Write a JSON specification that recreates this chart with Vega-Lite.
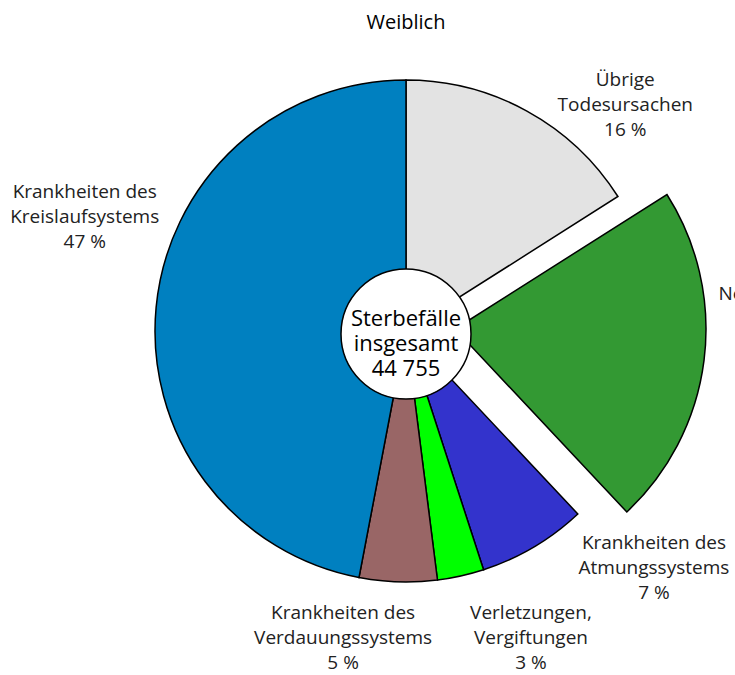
{
  "$schema": "https://vega.github.io/schema/vega-lite/v6.json",
  "width": 660,
  "height": 572,
  "autosize": {"type": "none"},
  "padding": {"left": 76, "top": 45, "right": 0, "bottom": 58},
  "background": "white",
  "title": {"text": "Weiblich", "font": "Open Sans", "fontSize": 20, "fontWeight": "normal", "color": "#000000", "anchor": "middle", "frame": "group", "offset": 12},
  "config": {"view": {"stroke": null}},
  "datasets": {
    "causes": [
      {"cause": "Übrige Todesursachen", "ord": 1, "pct": 16, "label": "Übrige\nTodesursachen\n16 %"},
      {"cause": "Neubildungen", "ord": 2, "pct": 22, "label": "Neubildungen\n22 %"},
      {"cause": "Krankheiten des Atmungssystems", "ord": 3, "pct": 7, "label": "Krankheiten des\nAtmungssystems\n7 %"},
      {"cause": "Verletzungen, Vergiftungen", "ord": 4, "pct": 3, "label": "Verletzungen,\nVergiftungen\n3 %"},
      {"cause": "Krankheiten des Verdauungssystems", "ord": 5, "pct": 5, "label": "Krankheiten des\nVerdauungssystems\n5 %"},
      {"cause": "Krankheiten des Kreislaufsystems", "ord": 6, "pct": 47, "label": "Krankheiten des\nKreislaufsystems\n47 %"}
    ],
    "total": [{"t": "Sterbefälle\ninsgesamt\n44 755"}]
  },
  "data": {"name": "causes"},
  "transform": [
    {"stack": "pct", "groupby": [], "sort": [{"field": "ord", "order": "ascending"}], "as": ["t0", "t1"]}
  ],
  "layer": [
    {
      "transform": [{"filter": "datum.cause !== 'Neubildungen'"}],
      "mark": {"type": "arc", "radius": 251, "stroke": "#000000", "strokeWidth": 1.5},
      "encoding": {
        "theta": {"field": "t0", "type": "quantitative", "scale": {"domain": [0, 100]}},
        "theta2": {"field": "t1"},
        "color": {"field": "cause", "type": "nominal", "legend": null,
          "scale": {"domain": ["Übrige Todesursachen", "Neubildungen", "Krankheiten des Atmungssystems", "Verletzungen, Vergiftungen", "Krankheiten des Verdauungssystems", "Krankheiten des Kreislaufsystems"],
                    "range": ["#e3e3e3", "#339933", "#3333cc", "#00ff00", "#996666", "#0080c0"]}}
      }
    },
    {
      "transform": [{"filter": "datum.cause === 'Neubildungen'"}],
      "mark": {"type": "arc", "radius": 251, "stroke": "#000000", "strokeWidth": 1.5, "xOffset": 49, "yOffset": -2},
      "encoding": {
        "theta": {"field": "t0", "type": "quantitative", "scale": {"domain": [0, 100]}},
        "theta2": {"field": "t1"},
        "color": {"field": "cause", "type": "nominal", "legend": null}
      }
    },
    {
      "data": {"name": "total"},
      "transform": [],
      "mark": {"type": "arc", "radius": 65, "theta": 0, "theta2": 6.2832, "fill": "#ffffff", "stroke": "#000000", "strokeWidth": 1.5, "yOffset": 3},
      "encoding": {}
    },
    {
      "data": {"name": "total"},
      "mark": {"type": "text", "font": "Open Sans", "fontSize": 22, "lineBreak": "\n", "lineHeight": 25, "fill": "#000000", "dy": -12},
      "encoding": {"text": {"field": "t", "type": "nominal"}}
    },
    {
      "transform": [{"filter": "datum.cause === 'Übrige Todesursachen'"}],
      "mark": {"type": "text", "radius": 315, "thetaOffset": 0.770, "dy": -25, "font": "Open Sans", "fontSize": 19, "lineBreak": "\n", "lineHeight": 25, "fill": "#222222"},
      "encoding": {
        "theta": {"field": "t0", "type": "quantitative", "scale": {"domain": [0, 100]}},
        "text": {"field": "label", "type": "nominal"}
      }
    },
    {
      "transform": [{"filter": "datum.cause === 'Neubildungen'"}],
      "mark": {"type": "text", "radius": 376, "thetaOffset": 0.499, "dy": -12, "font": "Open Sans", "fontSize": 19, "lineBreak": "\n", "lineHeight": 25, "fill": "#222222"},
      "encoding": {
        "theta": {"field": "t0", "type": "quantitative", "scale": {"domain": [0, 100]}},
        "text": {"field": "label", "type": "nominal"}
      }
    },
    {
      "transform": [{"filter": "datum.cause === 'Krankheiten des Atmungssystems'"}],
      "mark": {"type": "text", "radius": 343, "thetaOffset": -0.054, "dy": -25, "font": "Open Sans", "fontSize": 19, "lineBreak": "\n", "lineHeight": 25, "fill": "#222222"},
      "encoding": {
        "theta": {"field": "t0", "type": "quantitative", "scale": {"domain": [0, 100]}},
        "text": {"field": "label", "type": "nominal"}
      }
    },
    {
      "transform": [{"filter": "datum.cause === 'Verletzungen, Vergiftungen'"}],
      "mark": {"type": "text", "radius": 331, "thetaOffset": -0.073, "dy": -25, "font": "Open Sans", "fontSize": 19, "lineBreak": "\n", "lineHeight": 25, "fill": "#222222"},
      "encoding": {
        "theta": {"field": "t0", "type": "quantitative", "scale": {"domain": [0, 100]}},
        "text": {"field": "label", "type": "nominal"}
      }
    },
    {
      "transform": [{"filter": "datum.cause === 'Krankheiten des Verdauungssystems'"}],
      "mark": {"type": "text", "radius": 313, "thetaOffset": 0.328, "dy": -25, "font": "Open Sans", "fontSize": 19, "lineBreak": "\n", "lineHeight": 25, "fill": "#222222"},
      "encoding": {
        "theta": {"field": "t0", "type": "quantitative", "scale": {"domain": [0, 100]}},
        "text": {"field": "label", "type": "nominal"}
      }
    },
    {
      "transform": [{"filter": "datum.cause === 'Krankheiten des Kreislaufsystems'"}],
      "mark": {"type": "text", "radius": 341, "thetaOffset": 1.724, "dy": -25, "font": "Open Sans", "fontSize": 19, "lineBreak": "\n", "lineHeight": 25, "fill": "#222222"},
      "encoding": {
        "theta": {"field": "t0", "type": "quantitative", "scale": {"domain": [0, 100]}},
        "text": {"field": "label", "type": "nominal"}
      }
    }
  ]
}
